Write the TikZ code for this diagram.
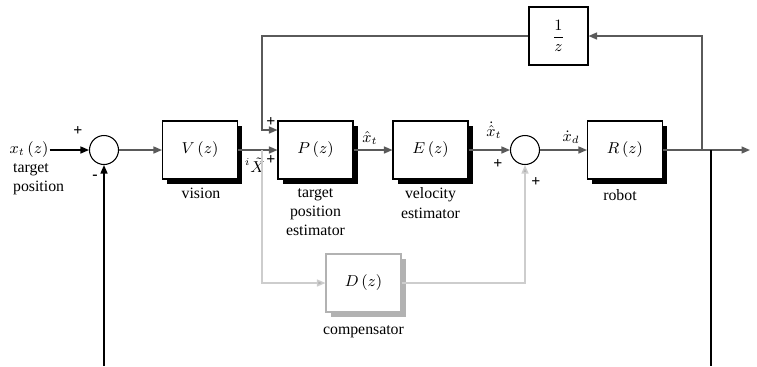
\documentclass[tikz,border=0pt]{standalone}
\usepackage{amsmath}
\usepackage{fontspec}
\setmainfont{Liberation Serif}
\usepackage{tikz}
\usetikzlibrary{arrows.meta,shadows,calc}
\definecolor{sigline}{RGB}{90,90,90}
\definecolor{compline}{RGB}{205,205,205}
\definecolor{compbox}{RGB}{178,178,178}
\tikzset{
    blk/.style={
        rectangle,
        draw=black,
        fill=white,
        line width=0.6pt,
        minimum width=1.5cm,
        minimum height=1.16cm,
        inner sep=1pt,
        font=\small,
        drop shadow={shadow xshift=0.09cm,shadow yshift=-0.09cm,fill=black,opacity=1}
    },
    cblk/.style={
        rectangle,
        draw=compbox,
        fill=white,
        line width=0.6pt,
        minimum width=1.5cm,
        minimum height=1.16cm,
        inner sep=1pt,
        font=\small,
        drop shadow={shadow xshift=0.09cm,shadow yshift=-0.09cm,fill=compbox,opacity=1}
    },
    dly/.style={
        rectangle,
        draw=black,
        fill=white,
        line width=0.6pt,
        minimum width=1.18cm,
        minimum height=1.16cm,
        inner sep=1pt,
        font=\small
    },
    sum/.style={circle,draw=black,fill=white,line width=0.6pt,minimum size=0.58cm,inner sep=0pt},
    lbl/.style={font=\small,align=center,inner sep=1pt},
    sig/.style={font=\small,inner sep=0.5pt},
    sgn/.style={font=\small\bfseries,inner sep=0pt},
    arr/.style={->,line width=0.8pt,sigline,>={Triangle[length=1.7mm,width=1.4mm]}},
    barr/.style={->,line width=0.8pt,black,>={Triangle[length=1.7mm,width=1.4mm]}},
    carr/.style={->,line width=0.8pt,compline,>={Triangle[length=1.7mm,width=1.4mm,fill=compbox]}}
}
\begin{document}
\begin{tikzpicture}
\useasboundingbox (0,0) rectangle (15.14,-7.32);

\node[sig] (xin) at (0.58,-3.0) {$x_t\,(z)$};
\node[lbl,align=left,anchor=north west] (xlbl) at (0.22,-3.22) {target\\position};

\node[sum] (s1) at (2.08,-3.0) {};
\node[blk] (V) at (4.0,-3.0) {$V\,(z)$};
\node[blk] (P) at (6.31,-3.0) {$P\,(z)$};
\node[blk] (E) at (8.61,-3.0) {$E\,(z)$};
\node[sum] (s2) at (10.5,-3.0) {};
\node[blk] (R) at (12.5,-3.0) {$R\,(z)$};
\node[dly] (Z) at (11.17,-0.72) {$\dfrac{1}{z}$};
\node[cblk] (D) at (7.27,-5.66) {$D\,(z)$};

\node[lbl] (vlbl) at (4.02,-3.86) {vision};
\node[lbl] (plbl) at (6.31,-4.24) {target\\position\\estimator};
\node[lbl] (elbl) at (8.61,-4.06) {velocity\\estimator};
\node[lbl] (rlbl) at (12.4,-3.9) {robot};
\node[lbl] (dlbl) at (7.27,-6.64) {compensator};

\node[sig] (xv) at (5.1,-3.3) {${}^{i}\tilde{X}$};
\node[sig] (xt) at (7.4,-2.76) {$\hat{x}_t$};
\node[sig] (xtd) at (9.88,-2.6) {$\dot{\hat{x}}_t$};
\node[sig] (xd) at (11.42,-2.74) {$\dot{x}_d$};

\node[sgn] (p1) at (1.56,-2.62) {+};
\node[sgn] (m1) at (1.9,-3.54) {-};
\node[sgn] (p2) at (5.42,-2.44) {+};
\node[sgn] (p3) at (5.42,-3.2) {+};
\node[sgn] (p4) at (9.96,-3.28) {+};
\node[sgn] (p5) at (10.72,-3.64) {+};

\coordinate (bv) at (5.24,-3.0);
\coordinate (ptop) at ($(P.west)+(0,0.4)$);
\coordinate (rout) at (14.04,-3.0);
\coordinate (rdn) at (14.22,-3.0);
\coordinate (yout) at (15.0,-3.0);
\coordinate (fb1) at (2.08,-7.32);
\coordinate (fb2) at (14.22,-7.32);

\draw[barr] (xin) -- (s1);
\draw[arr] (s1) -- (V);
\draw[arr] (V) -- (P);
\draw[arr] (P) -- (E);
\draw[arr] (E) -- (s2);
\draw[arr] (s2) -- (R);
\draw[arr] (R) -- (yout);
\draw[arr] (rout) |- (Z);
\draw[arr] (Z) -| (ptop -| bv) -- (ptop);
\draw[carr] (bv) |- (D);
\draw[carr] (D) -| (s2);
\draw[barr] (fb1) -- (s1);
\draw[line width=0.8pt,black] (rdn) -- (fb2);
\end{tikzpicture}
\end{document}
